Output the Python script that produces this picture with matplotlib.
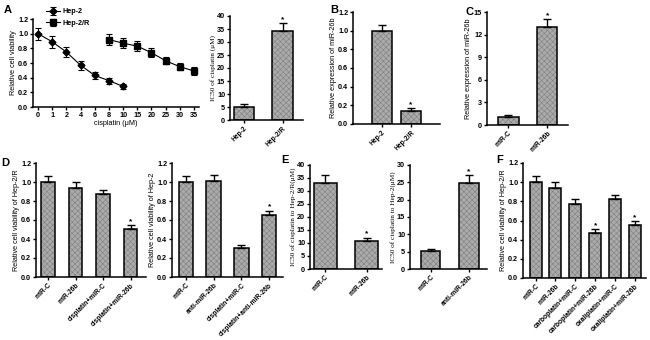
import numpy as np
import matplotlib.pyplot as plt

plt.rcParams['font.family'] = ['Liberation Sans', 'DejaVu Sans']
plt.rcParams['font.weight'] = 'bold'
plt.rcParams['hatch.linewidth'] = 0.4

# ---- data ----
dose_labels = ['0', '1', '2', '4', '6', '8', '10', '15', '20', '25', '30', '35']
hep2_doses = ['0', '1', '2', '4', '6', '8', '10']
hep2_viab = [1.00, 0.89, 0.75, 0.57, 0.43, 0.36, 0.28]
hep2_err = [0.08, 0.08, 0.07, 0.06, 0.05, 0.04, 0.03]
hep2r_doses = ['8', '10', '15', '20', '25', '30', '35']
hep2r_viab = [0.92, 0.87, 0.83, 0.74, 0.63, 0.55, 0.49]
hep2r_err = [0.08, 0.07, 0.07, 0.06, 0.05, 0.05, 0.05]

ic50_labels = ['Hep-2', 'Hep-2/R']
ic50_vals = [5.1, 34.3]
ic50_err = [1.0, 3.0]
ic50_star = [False, True]

b_labels = ['Hep-2', 'Hep-2/R']
b_vals = [1.00, 0.14]
b_err = [0.06, 0.03]
b_star = [False, True]

c_labels = ['miR-C', 'miR-26b']
c_vals = [1.05, 13.0]
c_err = [0.25, 1.1]
c_star = [False, True]

d1_labels = ['miR-C', 'miR-26b', 'cisplatin+miR-C', 'cisplatin+miR-26b']
d1_vals = [1.00, 0.94, 0.87, 0.51]
d1_err = [0.06, 0.06, 0.05, 0.04]
d1_star = [False, False, False, True]

d2_labels = ['miR-C', 'anti-miR-26b', 'cisplatin+miR-C', 'cisplatin+anti-miR-26b']
d2_vals = [1.00, 1.01, 0.31, 0.65]
d2_err = [0.06, 0.06, 0.03, 0.05]
d2_star = [False, False, False, True]

e1_labels = ['miR-C', 'miR-26b']
e1_vals = [33.0, 10.8]
e1_err = [3.0, 1.3]
e1_star = [False, True]

e2_labels = ['miR-C', 'anti-miR-26b']
e2_vals = [5.1, 24.8]
e2_err = [0.7, 2.2]
e2_star = [False, True]

f_labels = ['miR-C', 'miR-26b', 'carboplatin+miR-C', 'carboplatin+miR-26b',
            'oxaliplatin+miR-C', 'oxaliplatin+miR-26b']
f_vals = [1.00, 0.94, 0.77, 0.47, 0.82, 0.55]
f_err = [0.06, 0.06, 0.05, 0.04, 0.05, 0.04]
f_star = [False, False, False, True, False, True]

W, H = 650, 340
fig = plt.figure(figsize=(6.5, 3.4), dpi=100)

FS = 5.2
XFS = 4.8


def add_ax(left, top, right, bottom):
    # pixel box -> figure fraction
    return fig.add_axes([left / W, 1 - bottom / H, (right - left) / W, (bottom - top) / H])


def style(ax):
    for s in ['top', 'right']:
        ax.spines[s].set_visible(False)
    for s in ['left', 'bottom']:
        ax.spines[s].set_linewidth(1.1)
    ax.tick_params(axis='y', labelsize=FS, length=2.5, width=1.0, pad=1)
    ax.tick_params(axis='x', labelsize=XFS, length=2.5, width=1.0, pad=1)


def bar_panel(ax, labels, vals, errs, stars, width, xlim, ylim, yticks, ylabel, serif=False):
    x = np.arange(len(labels))
    ax.bar(x, vals, width, color='#ababab', hatch='xxxxxx', edgecolor='#808080', linewidth=0, zorder=2)
    ax.bar(x, vals, width, fill=False, edgecolor='black', linewidth=1.1, zorder=3)
    ax.errorbar(x, vals, yerr=[np.zeros(len(vals)), errs], fmt='none', ecolor='black',
                elinewidth=1.0, capsize=3, capthick=1.0, zorder=4)
    for xi, v, e, s in zip(x, vals, errs, stars):
        if s:
            ax.annotate('*', (xi, v + e), xytext=(0, 0), textcoords='offset points',
                        ha='center', va='bottom', fontsize=6)
    ax.set_xlim(*xlim)
    ax.set_ylim(*ylim)
    ax.set_yticks(yticks)
    ax.set_xticks(x)
    ax.set_xticklabels(labels, rotation=45, ha='right', rotation_mode='anchor')
    style(ax)
    if serif:
        ax.set_ylabel(ylabel, fontsize=FS, family='Liberation Serif', labelpad=1)
    else:
        ax.set_ylabel(ylabel, fontsize=FS, labelpad=1)


# ---- A: viability curves ----
ax = add_ax(33, 19, 199, 107)
pos = {d: i for i, d in enumerate(dose_labels)}
ax.errorbar([pos[d] for d in hep2_doses], hep2_viab, yerr=hep2_err, color='black', marker='D',
            ms=3.5, lw=0.8, elinewidth=0.8, capsize=2.5, capthick=0.8, label='Hep-2')
ax.errorbar([pos[d] for d in hep2r_doses], hep2r_viab, yerr=hep2r_err, color='black', marker='s',
            ms=4, lw=0.8, elinewidth=0.8, capsize=2.5, capthick=0.8, label='Hep-2/R')
ax.set_xlim(-0.35, 11.35)
ax.set_ylim(0, 1.2)
ax.set_yticks(np.arange(0, 1.21, 0.2))
ax.set_yticklabels([f'{v:.1f}' for v in np.arange(0, 1.21, 0.2)])
ax.set_xticks(range(len(dose_labels)))
ax.set_xticklabels(dose_labels)
style(ax)
ax.tick_params(axis='x', labelsize=FS)
ax.set_xlabel('cisplatin (\u03bcM)', fontsize=FS, labelpad=1)
ax.set_ylabel('Relative cell viability', fontsize=FS, labelpad=1)
ax.legend(loc='upper left', bbox_to_anchor=(0.05, 1.17), frameon=False, fontsize=FS,
          handlelength=2.0, handletextpad=0.3, labelspacing=0.6, borderpad=0.1)

# ---- A: IC50 ----
ax = add_ax(230, 16, 303, 120)
bar_panel(ax, ic50_labels, ic50_vals, ic50_err, ic50_star, 0.52, (-0.36, 1.53), (0, 40),
          range(0, 41, 5), 'IC50 of cisplatin (\u03bcM)', serif=True)

# ---- B ----
ax = add_ax(353, 12, 440, 124)
bar_panel(ax, b_labels, b_vals, b_err, b_star, 0.68, (-1.0, 2.0), (0, 1.2),
          np.round(np.arange(0, 1.21, 0.2), 1), 'Relative expression of miR-26b')
ax.set_yticklabels([f'{v:.1f}' for v in np.arange(0, 1.21, 0.2)])

# ---- C ----
ax = add_ax(487, 12, 568, 125)
bar_panel(ax, c_labels, c_vals, c_err, c_star, 0.52, (-0.55, 1.53), (0, 15),
          range(0, 16, 3), 'Relative expression of miR-26b')

# ---- D ----
ax = add_ax(36, 163, 146, 277)
bar_panel(ax, d1_labels, d1_vals, d1_err, d1_star, 0.5, (-0.44, 3.56), (0, 1.2),
          np.arange(0, 1.21, 0.2), 'Relative cell viability of Hep-2/R')
ax.set_yticklabels([f'{v:.1f}' for v in np.arange(0, 1.21, 0.2)])

ax = add_ax(172, 163, 283, 277)
bar_panel(ax, d2_labels, d2_vals, d2_err, d2_star, 0.52, (-0.5, 3.5), (0, 1.2),
          np.arange(0, 1.21, 0.2), 'Relative cell viability of Hep-2')
ax.set_yticklabels([f'{v:.1f}' for v in np.arange(0, 1.21, 0.2)])

# ---- E ----
ax = add_ax(310, 165, 382, 269)
bar_panel(ax, e1_labels, e1_vals, e1_err, e1_star, 0.55, (-0.36, 1.36), (0, 40),
          range(0, 41, 5), 'IC50 of cisplatin to Hep-2/R(\u03bcM)', serif=True)

ax = add_ax(410, 165, 487, 269)
bar_panel(ax, e2_labels, e2_vals, e2_err, e2_star, 0.52, (-0.54, 1.48), (0, 30),
          range(0, 31, 5), 'IC50 of cisplatin to Hep-2(\u03bcM)', serif=True)

# ---- F ----
ax = add_ax(523, 163, 646, 278)
bar_panel(ax, f_labels, f_vals, f_err, f_star, 0.6, (-0.63, 5.55), (0, 1.2),
          np.arange(0, 1.21, 0.2), 'Relative cell viability of Hep-2/R')
ax.set_yticklabels([f'{v:.1f}' for v in np.arange(0, 1.21, 0.2)])

# panel letters
for letter, px, py in [('A', 8, 10), ('B', 334, 10), ('C', 470, 12),
                       ('D', 5, 163), ('E', 285, 160), ('F', 500, 160)]:
    fig.text(px / W, 1 - py / H, letter, fontsize=8, fontweight='bold', ha='center', va='center')

fig.savefig('out.png', dpi=100)
